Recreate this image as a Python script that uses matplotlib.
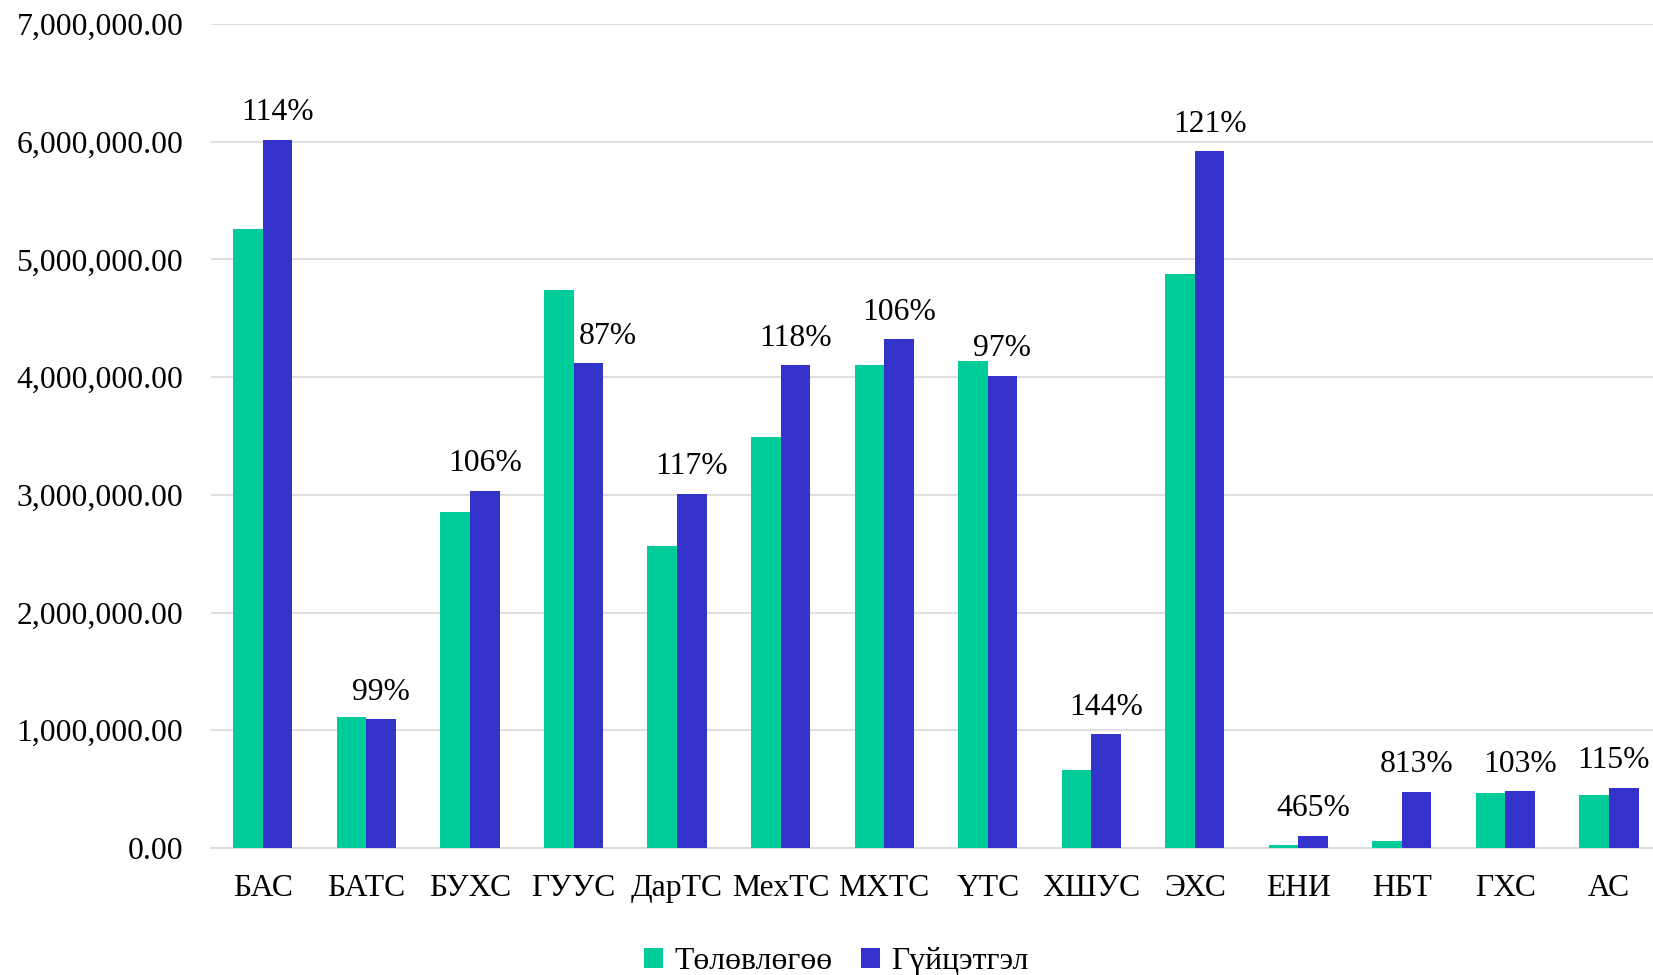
import numpy as np
import matplotlib
matplotlib.use('Agg')
import matplotlib.pyplot as plt

plt.rcParams['font.family'] = ['Liberation Serif', 'DejaVu Serif']

categories = ['БАС', 'БАТС', 'БУХС', 'ГУУС', 'ДарТС', 'МехТС', 'МХТС',
              'ҮТС', 'ХШУС', 'ЭХС', 'ЕНИ', 'НБТ', 'ГХС', 'АС']
plan = [5255000, 1110000, 2856000, 4736000, 2569000, 3490000, 4100000,
        4136000, 662000, 4879000, 22000, 58500, 468000, 446000]
actual = [6016000, 1092000, 3035000, 4118000, 3008000, 4100000, 4324000,
          4011000, 967000, 5918000, 102300, 476000, 482000, 513000]
pct_labels = ['114%', '99%', '106%', '87%', '117%', '118%', '106%',
              '97%', '144%', '121%', '465%', '813%', '103%', '115%']

green = '#00CC99'
blue = '#3333CC'
FS = 22.8
OFF = 14  # label baseline above bar, points

fig = plt.figure(figsize=(16.53, 9.75), dpi=100)
ax = fig.add_axes([0.1277, 0.1303, 0.877, 0.8451])

x = np.arange(len(categories))
w = 1 / 3.5
gbars = ax.bar(x - w / 2, plan, width=w, color=green, label='Төлөвлөгөө', zorder=3)
bbars = ax.bar(x + w / 2, actual, width=w, color=blue, label='Гүйцэтгэл', zorder=3)

texts = []
for i, lab in enumerate(pct_labels):
    t = ax.annotate(lab, (x[i] + w / 2, actual[i]), xytext=(0, OFF),
                    textcoords='offset points', ha='center', va='baseline',
                    fontsize=FS)
    texts.append(t)

ax.set_xlim(-0.5, len(categories) - 0.5)
ax.set_ylim(0, 7000000)
ax.set_yticks(np.arange(0, 7000001, 1000000))
ax.yaxis.set_major_formatter(matplotlib.ticker.FuncFormatter(lambda v, p: f'{v:,.2f}'))
ax.set_xticks(x)
ax.set_xticklabels(categories)
ax.tick_params(axis='both', length=0, labelsize=FS)
ax.tick_params(axis='y', pad=20)
ax.tick_params(axis='x', pad=19)
ax.grid(axis='y', color='#d9d9d9', linewidth=1.2, zorder=0)
for s in ['top', 'right', 'left']:
    ax.spines[s].set_visible(False)
ax.spines['bottom'].set_color('#d9d9d9')
ax.spines['bottom'].set_linewidth(1.2)

fig.legend(loc='lower center', bbox_to_anchor=(0.506, -0.03), ncol=2, frameon=False,
           fontsize=FS, handlelength=0.6, handleheight=0.6, handletextpad=0.35,
           columnspacing=0.9)

# nudge labels off the neighbouring bar / figure edge, like Excel does
fig.canvas.draw()
r = fig.canvas.get_renderer()
W = fig.bbox.width
k = 72 / fig.dpi
for t, gb, bbar in zip(texts, gbars, bbars):
    bb = t.get_window_extent(r)
    gbb = gb.get_window_extent(r)
    baseline = bbar.get_window_extent(r).y1 + OFF / k
    dx = 0
    if baseline < gbb.y1 and bb.x0 < gbb.x1:
        dx = gbb.x1 + 5 - bb.x0
    elif bb.x1 > W - 3:
        dx = -(bb.x1 - (W - 3))
    t.set_position((dx * k, OFF))

fig.savefig('out.png', dpi=100)
